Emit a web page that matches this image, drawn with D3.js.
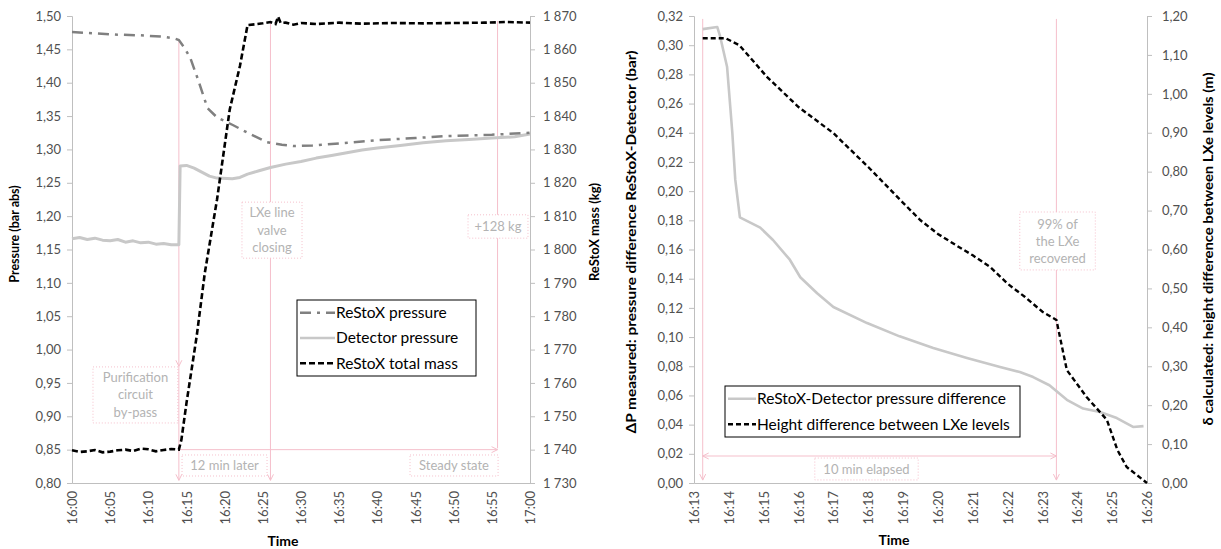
<!DOCTYPE html>
<html>
<head>
<meta charset="utf-8">
<script src="https://cdn.jsdelivr.net/npm/d3@7"></script>
<style>
  body { margin: 0; background: #fff; }
  svg text { font-family: Lato, "Open Sans", sans-serif; }
</style>
</head>
<body>
<svg id="fig" width="1221" height="549"></svg>
<script>
// ---- data ----
// left chart: pressures (bar abs) and ReStoX mass (kg) against time
const restoxPressure = [
  ["16:00", 1.476], ["16:03", 1.474], ["16:06", 1.472], ["16:09", 1.471], ["16:12", 1.469],
  ["16:13:30", 1.466], ["16:14", 1.464], ["16:14:45", 1.452], ["16:15:30", 1.437],
  ["16:16:30", 1.405], ["16:17:45", 1.362], ["16:19", 1.348], ["16:21", 1.337],
  ["16:23", 1.325], ["16:25:30", 1.311], ["16:27:30", 1.307], ["16:29", 1.305],
  ["16:31:30", 1.306], ["16:35", 1.309], ["16:40", 1.314], ["16:45", 1.317],
  ["16:49", 1.320], ["16:55", 1.322], ["17:00", 1.325]
];
const detectorPressure = [
  ["16:00", 1.166], ["16:01", 1.168], ["16:02", 1.165], ["16:03", 1.167], ["16:04", 1.164],
  ["16:05", 1.163], ["16:06", 1.165], ["16:07", 1.161], ["16:08", 1.163], ["16:09", 1.160],
  ["16:10", 1.161], ["16:11", 1.158], ["16:12", 1.159], ["16:13", 1.157], ["16:14", 1.157],
  ["16:14:10", 1.275], ["16:15", 1.276], ["16:16", 1.272], ["16:17", 1.266], ["16:18", 1.260],
  ["16:19", 1.257], ["16:21", 1.256], ["16:22", 1.258], ["16:23", 1.263], ["16:24:30", 1.268],
  ["16:26", 1.273], ["16:28", 1.278], ["16:30", 1.282], ["16:32", 1.287], ["16:34", 1.291],
  ["16:36", 1.295], ["16:38", 1.299], ["16:40", 1.302], ["16:43", 1.306], ["16:46", 1.310],
  ["16:49", 1.313], ["16:52", 1.315], ["16:55", 1.317], ["16:58", 1.319], ["17:00", 1.323]
];
const restoxMass = [
  ["16:00", 1739.8], ["16:01", 1739.3], ["16:02", 1739.5], ["16:03", 1739.9], ["16:04", 1739.2],
  ["16:05", 1739.4], ["16:06", 1739.8], ["16:07", 1740.0], ["16:08", 1739.6], ["16:09", 1740.3],
  ["16:10", 1740.1], ["16:11", 1739.5], ["16:12", 1739.9], ["16:13", 1740.2],
  ["16:14", 1740.0], ["16:14:20", 1743], ["16:15", 1754], ["16:16:20", 1774], ["16:17:24", 1793],
  ["16:19", 1815], ["16:20:40", 1842], ["16:22", 1855], ["16:23", 1867.3], ["16:24", 1867.5],
  ["16:25", 1867.8], ["16:26", 1868.2], ["16:26:40", 1867.6], ["16:27", 1869.8], ["16:27:20", 1867.9],
  ["16:28", 1868.0], ["16:29", 1867.4], ["16:30", 1867.9], ["16:32", 1867.6], ["16:35", 1868.0],
  ["16:38", 1867.7], ["16:42", 1867.9], ["16:46", 1867.8], ["16:50", 1867.9], ["16:54", 1868.0],
  ["16:57", 1868.2], ["17:00", 1868.0]
];

// right chart: measured pressure difference (bar) and calculated height difference (m)
const pressureDiff = [
  ["16:13:15", 0.311], ["16:13:40", 0.3125], ["16:13:45", 0.306], ["16:13:57", 0.285],
  ["16:14:06", 0.240], ["16:14:11", 0.208], ["16:14:19", 0.182], ["16:14:54", 0.175],
  ["16:15:16", 0.1665], ["16:15:45", 0.153], ["16:16:03", 0.141], ["16:16:32", 0.130],
  ["16:17:00", 0.1206], ["16:17:58", 0.1096], ["16:18:54", 0.1005], ["16:19:52", 0.0925],
  ["16:20:50", 0.0857], ["16:21:47", 0.0795], ["16:22:21", 0.076], ["16:22:44", 0.0726],
  ["16:23:12", 0.067], ["16:23:42", 0.057], ["16:24:10", 0.051], ["16:24:39", 0.0487],
  ["16:25:08", 0.0445], ["16:25:36", 0.0384], ["16:25:54", 0.039]
];
const heightDiff = [
  ["16:13:15", 1.143], ["16:13:54", 1.143], ["16:14:18", 1.125], ["16:15:06", 1.043],
  ["16:16:00", 0.966], ["16:17:00", 0.899], ["16:18:00", 0.812], ["16:19:00", 0.720],
  ["16:19:30", 0.675], ["16:20:00", 0.640], ["16:20:30", 0.612], ["16:21:00", 0.585],
  ["16:21:30", 0.555], ["16:22:00", 0.512], ["16:22:30", 0.478], ["16:23:00", 0.440],
  ["16:23:24", 0.419], ["16:23:42", 0.290], ["16:24:16", 0.221], ["16:24:51", 0.162],
  ["16:25:09", 0.085], ["16:25:25", 0.041], ["16:26:00", 0.0]
];

// tick labels
const leftTimeTicks = ["16:00","16:05","16:10","16:15","16:20","16:25","16:30","16:35","16:40","16:45","16:50","16:55","17:00"];
const rightTimeTicks = ["16:13","16:14","16:15","16:16","16:17","16:18","16:19","16:20","16:21","16:22","16:23","16:24","16:25","16:26"];
const pressureTicks = d3.range(0, 15).map(i => +(0.80 + i * 0.05).toFixed(2));
const massTicks = d3.range(0, 15).map(i => 1730 + i * 10);
const diffTicks = d3.range(0, 17).map(i => +(i * 0.02).toFixed(2));
const heightTicks = d3.range(0, 13).map(i => +(i * 0.1).toFixed(1));

// event markers (times)
const leftEvents = ["16:14", "16:26", "16:55:45"];
const rightEvents = ["16:13:15", "16:23:24"];

// ---- helpers ----
const parseT = d3.timeParse("%H:%M:%S");
const T = s => parseT(s.length === 5 ? s + ":00" : s);
const FONT = 'Lato, "Open Sans", sans-serif';
const PINK = "#f5bfcb";
const ANNOT = "#b3b3b3";
const loc = d3.formatLocale({decimal: ",", thousands: "\u00a0", grouping: [3], currency: ["", ""]});
const f2 = loc.format(".2f");
const fMass = loc.format(",.0f");

const svg = d3.select("#fig");
const defs = svg.append("defs");
defs.append("marker")
  .attr("id", "arr")
  .attr("markerUnits", "userSpaceOnUse")
  .attr("markerWidth", 10).attr("markerHeight", 10)
  .attr("refX", 7).attr("refY", 4)
  .attr("orient", "auto-start-reverse")
  .append("path")
  .attr("d", "M1,1 L7,4 L1,7")
  .attr("fill", "none").attr("stroke", PINK).attr("stroke-width", 1);

function styleAxis(g) {
  g.attr("font-family", FONT);
  g.select(".domain").attr("stroke", "#bfbfbf");
  g.selectAll(".tick line").attr("stroke", "#bfbfbf");
  g.selectAll(".tick text").attr("fill", "#505050").attr("font-size", 13);
}
function rotateTicks(g) {
  g.selectAll(".tick text")
    .attr("transform", "rotate(-90)")
    .attr("text-anchor", "end")
    .attr("x", -8).attr("y", 0).attr("dy", "0.35em");
}
function box(g, x0, x1, y0, y1, lines, lh) {
  g.append("rect")
    .attr("x", x0).attr("y", y0).attr("width", x1 - x0).attr("height", y1 - y0)
    .attr("fill", "#fff").attr("stroke", PINK).attr("stroke-dasharray", "1,2");
  const cy = (y0 + y1) / 2, n = lines.length;
  g.append("text")
    .attr("text-anchor", "middle").attr("font-size", 13).attr("fill", ANNOT)
    .selectAll("tspan").data(lines).enter().append("tspan")
    .attr("x", (x0 + x1) / 2)
    .attr("y", (d, i) => cy + (i - (n - 1) / 2) * lh)
    .attr("dy", "0.35em")
    .text(d => d);
}
function pinkLine(g, xa, ya, xb, yb, startArrow, endArrow) {
  const l = g.append("line").attr("x1", xa).attr("y1", ya).attr("x2", xb).attr("y2", yb)
    .attr("stroke", PINK).attr("stroke-width", 1);
  if (startArrow) l.attr("marker-start", "url(#arr)");
  if (endArrow) l.attr("marker-end", "url(#arr)");
}
function legend(g, x, y, w, h, items, size) {
  g.append("rect").attr("x", x).attr("y", y).attr("width", w).attr("height", h)
    .attr("fill", "#fff").attr("stroke", "#000").attr("stroke-width", 1);
  const step = h / items.length;
  items.forEach((it, i) => {
    const cy = y + step * (i + 0.5);
    g.append("line").attr("x1", x + 3).attr("x2", x + it.sample).attr("y1", cy).attr("y2", cy)
      .attr("stroke", it.color).attr("stroke-width", it.width)
      .attr("stroke-dasharray", it.dash || null);
    g.append("text").attr("x", x + it.sample + 1).attr("y", cy).attr("dy", "0.35em")
      .attr("font-size", size).attr("fill", "#000").text(it.label);
  });
}
function title(g, x, y, rot, size, text, len) {
  const t = g.append("text")
    .attr("transform", `translate(${x},${y})` + (rot ? " rotate(-90)" : ""))
    .attr("text-anchor", "middle").attr("font-size", size).attr("font-weight", "bold")
    .attr("fill", "#000").text(text);
  if (len) t.attr("textLength", len).attr("lengthAdjust", "spacingAndGlyphs");
}

// ================= LEFT CHART =================
const x1 = d3.scaleTime().domain([T("16:00"), T("17:00")]).range([72, 530]);
const yP = d3.scaleLinear().domain([0.8, 1.5]).range([483, 16]);
const yM = d3.scaleLinear().domain([1730, 1870]).range([483, 16]);

const left = svg.append("g");

left.append("g").attr("transform", "translate(72,0)")
  .call(d3.axisLeft(yP).tickValues(pressureTicks).tickSize(5).tickPadding(6).tickFormat(f2))
  .call(styleAxis);
left.append("g").attr("transform", "translate(530,0)")
  .call(d3.axisRight(yM).tickValues(massTicks).tickSize(5).tickPadding(8).tickFormat(fMass))
  .call(styleAxis);
left.append("g").attr("transform", "translate(0,483)")
  .call(d3.axisBottom(x1).tickValues(leftTimeTicks.map(T)).tickSize(0).tickFormat(d3.timeFormat("%H:%M")))
  .call(styleAxis).call(rotateTicks);

// annotations
const annL = left.append("g");
const [eA, eB, eC] = leftEvents.map(s => x1(T(s)));
pinkLine(annL, eA, yP(1.462), eA, yP(0.975), false, true);
pinkLine(annL, eA, yP(0.975), eA, yP(0.804), false, true);
pinkLine(annL, eB, yM(1868.5), eB, yP(0.804), false, true);
pinkLine(annL, eC, yM(1868.5), eC, yP(0.852), false, false);
pinkLine(annL, eA, yP(0.85), eC, yP(0.85), false, true);
box(annL, x1(T("16:02:45")), eA - 1, yP(0.974), yP(0.890), ["Purification", "circuit", "by-pass"], 17.5);
box(annL, x1(T("16:22:16")), x1(T("16:30:08")), yP(1.221), yP(1.137), ["LXe line", "valve", "closing"], 17.5);
box(annL, x1(T("16:51:53")), x1(T("16:59:44")), yP(1.202), yP(1.167), ["+128 kg"], 17);
box(annL, x1(T("16:14:25")), x1(T("16:25:33")), yP(0.842), yP(0.8105), ["12 min later"], 17);
box(annL, x1(T("16:44:17")), x1(T("16:55:49")), yP(0.842), yP(0.8105), ["Steady state"], 17);

// series
const lineP = d3.line().x(d => x1(T(d[0]))).y(d => yP(d[1]));
const lineM = d3.line().x(d => x1(T(d[0]))).y(d => yM(d[1]));
left.append("path").datum(detectorPressure).attr("d", lineP)
  .attr("fill", "none").attr("stroke", "#c8c8c8").attr("stroke-width", 3).attr("stroke-linejoin", "round");
left.append("path").datum(restoxPressure).attr("d", lineP)
  .attr("fill", "none").attr("stroke", "#808080").attr("stroke-width", 2.5)
  .attr("stroke-dasharray", "11,6,3,6");
left.append("path").datum(restoxMass).attr("d", lineM)
  .attr("fill", "none").attr("stroke", "#000").attr("stroke-width", 2.6)
  .attr("stroke-dasharray", "6,3");

legend(left, 297, 300, 179, 76, [
  {label: "ReStoX pressure", color: "#808080", width: 2.5, dash: "11,6,3,6", sample: 38},
  {label: "Detector pressure", color: "#c8c8c8", width: 2.5, sample: 38},
  {label: "ReStoX total mass", color: "#000", width: 2.5, dash: "6,3", sample: 38}
], 15.5);

// titles
title(left, 19, 234, true, 12.5, "Pressure (bar abs)");
title(left, 599, 232, true, 13, "ReStoX mass (kg)");
title(left, 283, 546, false, 14, "Time");

// ================= RIGHT CHART =================
const x2 = d3.scaleTime().domain([T("16:13"), T("16:26")]).range([694, 1147]);
const yD = d3.scaleLinear().domain([0, 0.32]).range([483, 16]);
const yH = d3.scaleLinear().domain([0, 1.2]).range([483, 16]);

const right = svg.append("g");

right.append("g").attr("transform", "translate(694,0)")
  .call(d3.axisLeft(yD).tickValues(diffTicks).tickSize(5).tickPadding(6).tickFormat(f2))
  .call(styleAxis);
right.append("g").attr("transform", "translate(1147,0)")
  .call(d3.axisRight(yH).tickValues(heightTicks).tickSize(5).tickPadding(10).tickFormat(f2))
  .call(styleAxis);
right.append("g").attr("transform", "translate(0,483)")
  .call(d3.axisBottom(x2).tickValues(rightTimeTicks.map(T)).tickSize(0).tickFormat(d3.timeFormat("%H:%M")))
  .call(styleAxis).call(rotateTicks);

const annR = right.append("g");
const [rA, rB] = rightEvents.map(s => x2(T(s)));
pinkLine(annR, rA, yD(0.318), rA, yD(0.002), false, true);
pinkLine(annR, rB, yD(0.318), rB, yD(0.002), false, true);
pinkLine(annR, rA, yD(0.0185), rB, yD(0.0185), true, true);
box(annR, x2(T("16:22:21")), x2(T("16:24:31")), yD(0.1857), yD(0.146), ["99% of", "the LXe", "recovered"], 17);
box(annR, x2(T("16:16:28")), x2(T("16:19:26")), yD(0.0171), yD(0.0021), ["10 min elapsed"], 17);

const lineD = d3.line().x(d => x2(T(d[0]))).y(d => yD(d[1]));
const lineH = d3.line().x(d => x2(T(d[0]))).y(d => yH(d[1]));
right.append("path").datum(pressureDiff).attr("d", lineD)
  .attr("fill", "none").attr("stroke", "#c8c8c8").attr("stroke-width", 2.6).attr("stroke-linejoin", "round");
right.append("path").datum(heightDiff).attr("d", lineH)
  .attr("fill", "none").attr("stroke", "#000").attr("stroke-width", 2.4)
  .attr("stroke-dasharray", "5,3");

legend(right, 725, 386, 295, 51, [
  {label: "ReStoX-Detector pressure difference", color: "#c8c8c8", width: 2.5, sample: 31},
  {label: "Height difference between LXe levels", color: "#000", width: 2.5, dash: "5,3", sample: 31}
], 15.5);

title(right, 636, 242, true, 13.5, "ΔP measured: pressure difference ReStoX-Detector (bar)", 383);
title(right, 1213, 249, true, 13.5, "δ calculated: height difference between LXe levels (m)", 353);
title(right, 894, 545, false, 14, "Time");
</script>
</body>
</html>
